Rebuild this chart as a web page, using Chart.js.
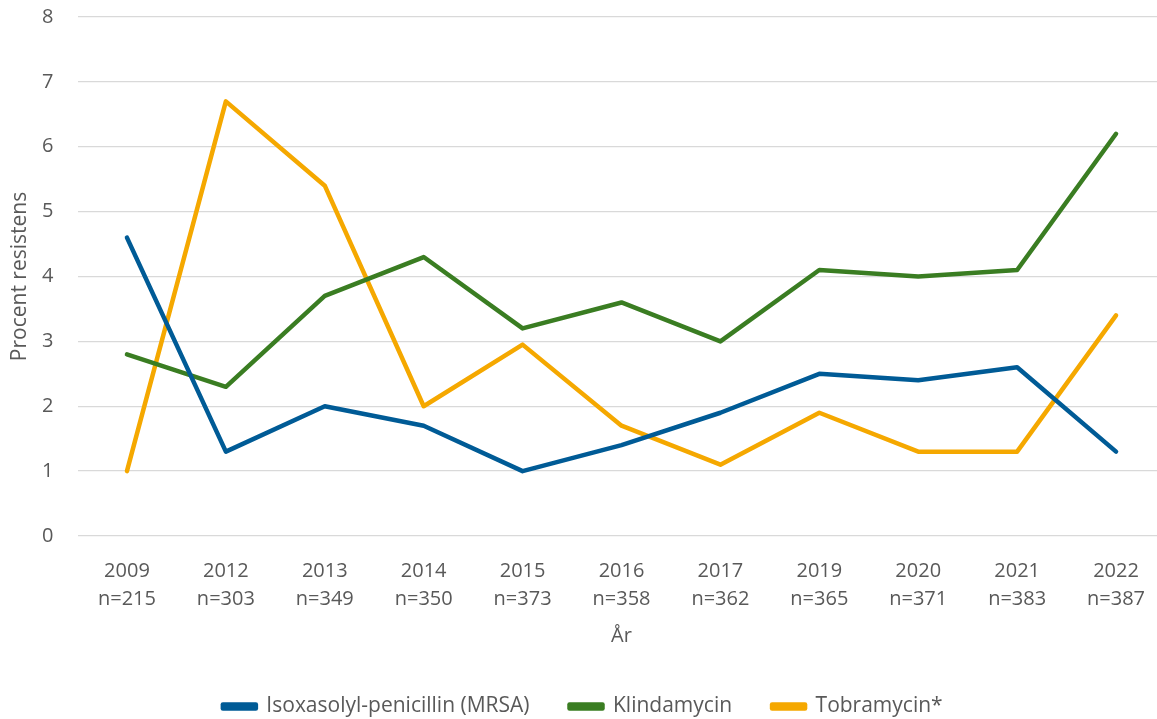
<!DOCTYPE html>
<html><head><meta charset="utf-8">
<script src="https://cdn.jsdelivr.net/npm/chart.js@4/dist/chart.umd.min.js"></script>
<style>html,body{margin:0;padding:0;overflow:hidden;background:#fff}canvas{display:block}</style>
</head><body>
<canvas id="c" width="1180" height="727"></canvas>
<script>
const years = ['2009','2012','2013','2014','2015','2016','2017','2019','2020','2021','2022'];
const counts = ['n=215','n=303','n=349','n=350','n=373','n=358','n=362','n=365','n=371','n=383','n=387'];
const mrsa = [4.6, 1.3, 2.0, 1.7, 1.0, 1.4, 1.9, 2.5, 2.4, 2.6, 1.3];
const klindamycin = [2.8, 2.3, 3.7, 4.3, 3.2, 3.6, 3.0, 4.1, 4.0, 4.1, 6.2];
const tobramycin = [1.0, 6.7, 5.4, 2.0, 2.95, 1.7, 1.1, 1.9, 1.3, 1.3, 3.4];
const seriesNames = ['Isoxasolyl-penicillin (MRSA)', 'Klindamycin', 'Tobramycin*'];
const yTitle = 'Procent resistens';
const xTitle = 'År';

const labels = years.map((y, i) => [y, counts[i]]);
const colors = ['#005B96', '#3A7D22', '#F5A800'];
const grey = '#595959';
const fontFam = "'Open Sans', sans-serif";

function ds(name, data, color) {
  return {
    label: name, data: data, borderColor: color, backgroundColor: color,
    borderWidth: 4.5, pointRadius: 0, pointHoverRadius: 0, tension: 0,
    borderCapStyle: 'round', borderJoinStyle: 'round', fill: false
  };
}

new Chart(document.getElementById('c'), {
  type: 'line',
  data: {
    labels: labels,
    datasets: [
      ds(seriesNames[0], mrsa, colors[0]),
      ds(seriesNames[1], klindamycin, colors[1]),
      ds(seriesNames[2], tobramycin, colors[2])
    ]
  },
  options: {
    responsive: false,
    animation: false,
    layout: { padding: { top: 17, right: 14.5, left: 0, bottom: 0 } },
    plugins: {
      tooltip: { enabled: false },
      legend: {
        position: 'bottom',
        labels: {
          boxWidth: 33, boxHeight: 4, padding: 40,
          color: grey, font: { family: fontFam, size: 21 }
        }
      }
    },
    scales: {
      x: {
        offset: true,
        grid: { display: false, drawTicks: false },
        border: { display: false },
        ticks: {
          color: grey, padding: 21, maxRotation: 0, autoSkip: false,
          font: { family: fontFam, size: 20, lineHeight: 1.4 }
        },
        title: {
          display: true, text: xTitle, color: grey,
          font: { family: fontFam, size: 20 },
          padding: { top: 4, bottom: 8 }
        },
        afterFit: (s) => { s.height = 120; }
      },
      y: {
        min: 0, max: 8,
        grid: { color: '#D9D9D9', lineWidth: 1.3, drawTicks: false },
        border: { display: false },
        ticks: {
          stepSize: 1, color: grey, padding: 24,
          font: { family: fontFam, size: 20 }
        },
        title: {
          display: true, text: yTitle, color: grey,
          font: { family: fontFam, size: 21 },
          padding: { top: 7, bottom: 0 }
        },
        afterFit: (s) => { s.width = 77.5; s.paddingTop = 0; s.paddingBottom = 0; }
      }
    }
  }
});
</script>
</body></html>
